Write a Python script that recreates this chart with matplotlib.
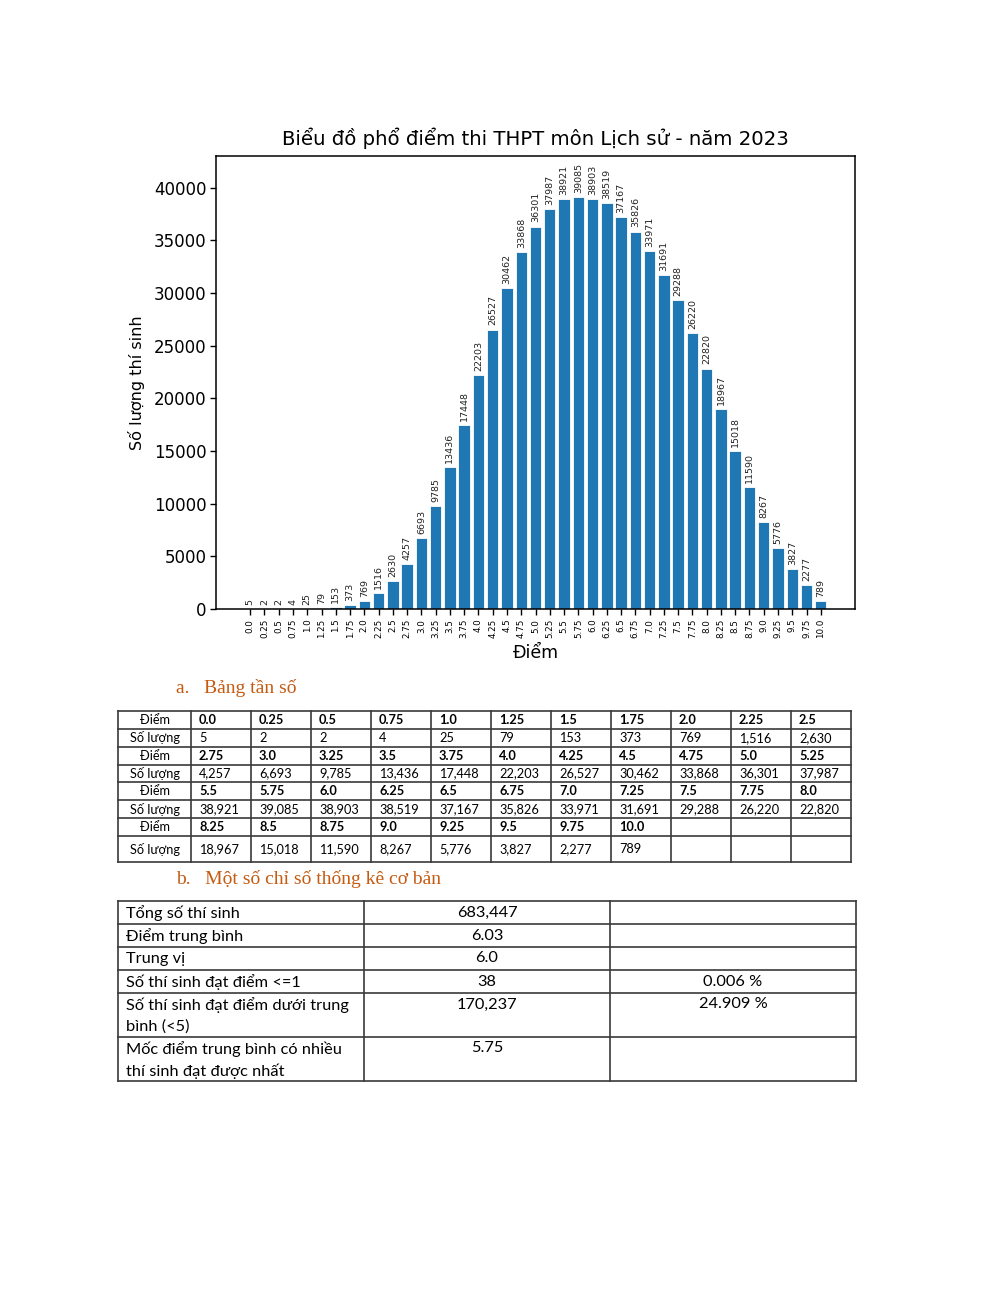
import matplotlib
matplotlib.use("Agg")
import matplotlib.pyplot as plt

# ---------------- data ----------------
score_labels = ["0.0", "0.25", "0.5", "0.75", "1.0", "1.25", "1.5", "1.75", "2.0", "2.25",
                "2.5", "2.75", "3.0", "3.25", "3.5", "3.75", "4.0", "4.25", "4.5", "4.75",
                "5.0", "5.25", "5.5", "5.75", "6.0", "6.25", "6.5", "6.75", "7.0", "7.25",
                "7.5", "7.75", "8.0", "8.25", "8.5", "8.75", "9.0", "9.25", "9.5", "9.75", "10.0"]
counts = [5, 2, 2, 4, 25, 79, 153, 373, 769, 1516,
          2630, 4257, 6693, 9785, 13436, 17448, 22203, 26527, 30462, 33868,
          36301, 37987, 38921, 39085, 38903, 38519, 37167, 35826, 33971, 31691,
          29288, 26220, 22820, 18967, 15018, 11590, 8267, 5776, 3827, 2277, 789]
y_ticks = [0, 5000, 10000, 15000, 20000, 25000, 30000, 35000, 40000]

chart_title = "Biểu đồ phổ điểm thi THPT môn Lịch sử - năm 2023"
x_label = "Điểm"
y_label = "Số lượng thí sinh"

heading_a = "a.   Bảng tần số"
heading_b = "b.   Một số chỉ số thống kê cơ bản"
row_head_score = "Điểm"
row_head_count = "Số lượng"

stats_names = ["Tổng số thí sinh", "Điểm trung bình", "Trung vị", "Số thí sinh đạt điểm <=1",
               "Số thí sinh đạt điểm dưới trung\nbình (<5)",
               "Mốc điểm trung bình có nhiều\nthí sinh đạt được nhất"]
stats_values = ["683,447", "6.03", "6.0", "38", "170,237", "5.75"]
stats_pct = ["", "", "", "0.006 %", "24.909 %", ""]

# ---------------- figure ----------------
W, H = 1000, 1294
fig = plt.figure(figsize=(W / 100, H / 100), dpi=100)
fig.patch.set_facecolor("white")

# chart axes (pixel box: x 216..855, y 156..609)
ax = fig.add_axes([216 / W, (H - 609) / H, 639 / W, 453 / H])
xs = list(range(len(counts)))
ax.bar(xs, counts, width=0.8, color="#1f77b4", edgecolor="white", linewidth=0.6)
for x, c in zip(xs, counts):
    ax.annotate(str(c), (x, c), xytext=(0, 3), textcoords="offset points",
                rotation=90, ha="center", va="bottom", fontsize=6.8, color="#222222")
ax.set_xlim(-2.4, 42.4)
ax.set_ylim(0, 43000)
ax.set_xticks(xs)
ax.set_xticklabels(score_labels, rotation=90, fontsize=6.3)
ax.set_yticks(y_ticks)
ax.set_yticklabels([str(v) for v in y_ticks], fontsize=12)
ax.tick_params(axis="x", length=4, width=1, pad=3)
ax.tick_params(axis="y", length=4, width=1, pad=3)
for s in ax.spines.values():
    s.set_linewidth(1.1)
ax.set_title(chart_title, fontsize=14.2, pad=8)
ax.set_xlabel(x_label, fontsize=12.5, labelpad=4)
ax.set_ylabel(y_label, fontsize=11.6, labelpad=6)

# overlay axes for document tables, in pixel coordinates
tx = fig.add_axes([0, 0, 1, 1])
tx.set_xlim(0, W)
tx.set_ylim(H, 0)
tx.axis("off")

heading_color = "#C55A11"
serif = "Liberation Serif"
body = "Lato"
line_color = "#3a3a3a"
fs1 = 9.2
fs2 = 11.8

tx.text(176, 688, heading_a, fontsize=14, family=serif, color=heading_color, va="center", ha="left")
tx.text(176, 879, heading_b, fontsize=14, family=serif, color=heading_color, va="center", ha="left")

# ---- table 1 ----
col_edges = [118, 191] + [191 + 60 * i for i in range(1, 12)]
row_edges = [711, 729, 747, 765, 782, 800, 818, 836, 862]
ncols = 11
for y in row_edges:
    tx.plot([col_edges[0], col_edges[-1]], [y, y], color=line_color, lw=1.2)
for x in col_edges:
    tx.plot([x, x], [row_edges[0], row_edges[-1]], color=line_color, lw=1.2)

for g in range(4):
    r_score = 2 * g
    r_count = 2 * g + 1
    yc_s = (row_edges[r_score] + row_edges[r_score + 1]) / 2
    yc_c = (row_edges[r_count] + row_edges[r_count + 1]) / 2
    tx.text((col_edges[0] + col_edges[1]) / 2, yc_s, row_head_score, fontsize=fs1, family=body,
            ha="center", va="center")
    tx.text((col_edges[0] + col_edges[1]) / 2, yc_c, row_head_count, fontsize=fs1, family=body,
            ha="center", va="center")
    for j in range(ncols):
        k = g * ncols + j
        if k >= len(counts):
            break
        xl = col_edges[j + 1] + 8
        tx.text(xl, yc_s, score_labels[k], fontsize=fs1, family=body, weight="bold",
                ha="left", va="center")
        tx.text(xl, yc_c, f"{counts[k]:,}", fontsize=fs1, family=body, ha="left", va="center")

# ---- table 2 ----
c2 = [118, 364, 610, 856]
r2 = [901, 924, 947, 970, 993, 1037, 1081]
for y in r2:
    tx.plot([c2[0], c2[-1]], [y, y], color=line_color, lw=1.2)
for x in c2:
    tx.plot([x, x], [r2[0], r2[-1]], color=line_color, lw=1.2)
for i in range(len(stats_names)):
    ytop = r2[i] + 4.5
    tx.text(c2[0] + 8, ytop, stats_names[i], fontsize=fs2, family=body, ha="left", va="top",
            linespacing=1.5)
    tx.text((c2[1] + c2[2]) / 2, ytop, stats_values[i], fontsize=fs2, family=body,
            ha="center", va="top")
    if stats_pct[i]:
        tx.text((c2[2] + c2[3]) / 2, ytop, stats_pct[i], fontsize=fs2, family=body,
                ha="center", va="top")

fig.savefig("out.png", dpi=100)
